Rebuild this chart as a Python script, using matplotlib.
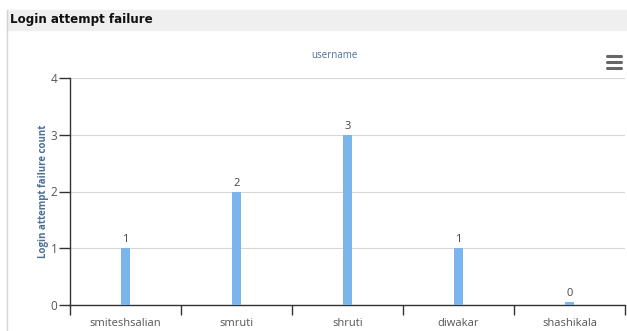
import matplotlib.pyplot as plt
from matplotlib.patches import Rectangle
from matplotlib.lines import Line2D

users = ['smiteshsalian', 'smruti', 'shruti', 'diwakar', 'shashikala']
failures = [1, 2, 3, 1, 0]
y_ticks = [0, 1, 2, 3, 4]

W, H = 627, 331
fig = plt.figure(figsize=(W / 100, H / 100), dpi=100)

# panel header band and left border
fig.patches.append(Rectangle((7 / W, 1 - 30 / H), 1 - 7 / W, 20 / H,
                             transform=fig.transFigure, color='#efefef', zorder=0))
fig.lines.append(Line2D([7 / W, 7 / W], [0, 1 - 10 / H], transform=fig.transFigure,
                        color='#d4d4d4', lw=1))
fig.text(10 / W, 1 - 20 / H, 'Login attempt failure', fontsize=8.6, fontweight='bold',
         family='DejaVu Sans', va='center', ha='left', color='#111111')

ax = fig.add_axes([70 / W, 1 - 305 / H, (625 - 70) / W, (305 - 78) / H])

x = list(range(len(users)))
# keep zero bars visible with a minimum point length
min_len = 0.06
heights = [max(v, min_len) for v in failures]
ax.bar(x, heights, width=0.075, color='#7cb5ec', zorder=3)
for xi, v, h in zip(x, failures, heights):
    ax.text(xi, h + 0.05, str(v), ha='center', va='bottom', fontsize=8,
            family='Open Sans', color='#444444')

ax.set_xlim(-0.5, len(users) - 0.5)
ax.set_ylim(0, 4)
ax.set_yticks(y_ticks)
ax.set_xticks(x)
ax.set_xticklabels(users, family='Open Sans', fontsize=8, color='#555555')
ax.set_xticks([i - 0.5 for i in range(len(users) + 1)], minor=True)
ax.tick_params(axis='x', which='major', length=0, pad=9)
ax.tick_params(axis='x', which='minor', length=7, color='#333333', width=1, direction='out')
ax.tick_params(axis='y', length=8, color='#333333', width=1, labelsize=8.5,
               labelcolor='#555555', pad=1)
for lbl in ax.get_yticklabels():
    lbl.set_family('Open Sans')

ax.grid(axis='y', color='#d8d8d8', lw=0.8, zorder=0)
ax.set_axisbelow(True)
for side in ['top', 'right']:
    ax.spines[side].set_visible(False)
for side in ['left', 'bottom']:
    ax.spines[side].set_color('#333333')
    ax.spines[side].set_linewidth(1)

ax.set_ylabel('Login attempt failure count', family='Open Sans', fontsize=7,
              fontweight='bold', color='#4d6f96', labelpad=1)
fig.text(334 / W, 1 - 56 / H, 'username', family='Open Sans', fontsize=7,
         color='#4d6f96', ha='center', va='center')

# menu icon
for dy in (56, 62, 68):
    fig.lines.append(Line2D([607 / W, 621 / W], [1 - dy / H, 1 - dy / H],
                            transform=fig.transFigure, color='#666666', lw=2.2,
                            solid_capstyle='round'))

fig.savefig('out.png', dpi=100)
